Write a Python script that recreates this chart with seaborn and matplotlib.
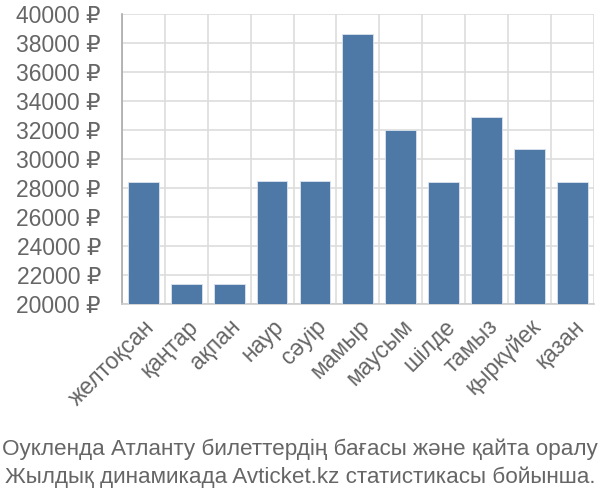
import matplotlib
matplotlib.use("Agg")
import matplotlib.pyplot as plt
import seaborn as sns
import pandas as pd
import numpy as np
from matplotlib.ticker import FixedLocator, FuncFormatter

months = ["желтоқсан", "қаңтар", "ақпан", "наур", "сәуір", "мамыр",
          "маусым", "шілде", "тамыз", "қыркүйек", "қазан"]
prices = [28420, 21360, 21360, 28510, 28510, 38590, 32030, 28420, 32930, 30680, 28420]
yticks = list(range(20000, 40001, 2000))
caption = ["Оукленда Атланту билеттердің бағасы және қайта оралу",
           "Жылдық динамикада Avticket.kz статистикасы бойынша."]

sns.set_style("white")
plt.rcParams['font.family'] = ['Liberation Sans', 'DejaVu Sans']

df = pd.DataFrame({"month": months, "price": prices})
fig = plt.figure(figsize=(6, 5), dpi=100)
ax = fig.add_axes([0.203, 0.392, 0.787, 0.580])
sns.barplot(data=df, x="month", y="price", color="#4e79a7", width=0.72,
            saturation=1, ax=ax, zorder=3, edgecolor="#dbe4ee", linewidth=0.6)
ax.set_ylim(20000, 40000)
ax.set_xlim(-0.5, len(months) - 0.5)
ax.set_yticks(yticks)
ax.yaxis.set_major_formatter(FuncFormatter(lambda v, p: f"{int(v)} ₽"))
ax.xaxis.set_minor_locator(FixedLocator(np.arange(-0.5, len(months), 1)))
ax.grid(True, axis="y", color="#dddddd", linewidth=1.2, zorder=0)
ax.grid(True, axis="x", which="minor", color="#dddddd", linewidth=1.2, zorder=0)
ax.tick_params(axis="x", which="major", length=0, labelsize=16.5, labelcolor="#666666", pad=8)
ax.tick_params(axis="x", which="minor", length=14, color="#dddddd", width=1.2)
ax.tick_params(axis="y", length=14, color="#dddddd", width=1.2, labelsize=16.5,
               labelcolor="#666666", pad=1)
plt.setp(ax.get_xticklabels(), rotation=45, ha="right", rotation_mode="anchor")
ax.set_xlabel("")
ax.set_ylabel("")
for s in ["top", "right"]:
    ax.spines[s].set_visible(False)
ax.spines["left"].set_color("#aaaaaa")
ax.spines["left"].set_linewidth(1.2)
ax.spines["bottom"].set_color("#cccccc")
ax.spines["bottom"].set_linewidth(1.2)

cap_font = ['Liberation Sans', 'DejaVu Sans']
fig.text(0.5, 0.09, caption[0], ha="center", va="baseline", fontsize=16.2,
         color="#666666", family=cap_font)
fig.text(0.5, 0.034, caption[1], ha="center", va="baseline", fontsize=16.2,
         color="#666666", family=cap_font)
fig.savefig("out.png", dpi=100)
